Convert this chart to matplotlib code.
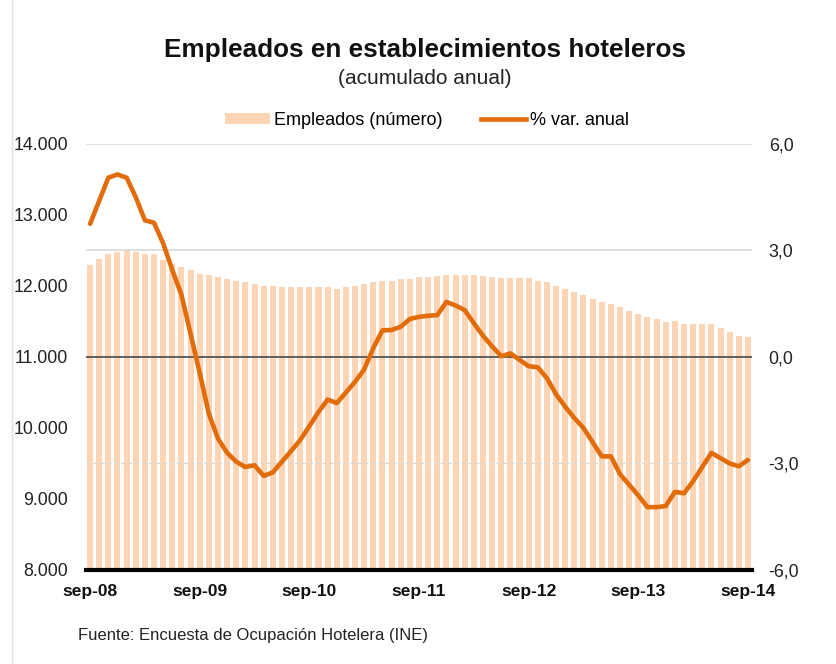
import matplotlib.pyplot as plt
from matplotlib.lines import Line2D
from matplotlib.patches import Patch

plt.rcParams['font.family'] = ['Liberation Sans', 'DejaVu Sans']

# Monthly data, sep-08 .. sep-14
empleados = [12290, 12380, 12450, 12480, 12500, 12480, 12450, 12450, 12370, 12310,
             12270, 12220, 12170, 12150, 12130, 12100, 12075, 12050, 12030, 12005,
             12000, 11990, 11990, 11990, 11990, 11990, 11990, 11960, 11990, 12005,
             12030, 12050, 12075, 12075, 12100, 12100, 12130, 12130, 12140, 12150,
             12150, 12150, 12150, 12140, 12130, 12110, 12110, 12110, 12110, 12075,
             12050, 12000, 11960, 11910, 11870, 11820, 11770, 11750, 11700, 11650,
             11600, 11560, 11530, 11490, 11510, 11470, 11460, 11460, 11460, 11410,
             11350, 11300, 11280]

var_anual = [3.75, 4.4, 5.05, 5.14, 5.05, 4.5, 3.85, 3.78, 3.2, 2.45,
             1.75, 0.65, -0.45, -1.6, -2.3, -2.7, -2.95, -3.1, -3.05, -3.35,
             -3.25, -2.95, -2.65, -2.34, -1.95, -1.55, -1.2, -1.3, -1.0, -0.7,
             -0.35, 0.25, 0.75, 0.76, 0.85, 1.07, 1.13, 1.16, 1.18, 1.55,
             1.45, 1.32, 0.95, 0.6, 0.3, 0.02, 0.1, -0.08, -0.26, -0.29,
             -0.6, -1.05, -1.4, -1.72, -2.0, -2.4, -2.8, -2.8, -3.3, -3.6,
             -3.9, -4.23, -4.23, -4.2, -3.8, -3.84, -3.5, -3.1, -2.7, -2.85,
             -3.0, -3.08, -2.9]

tick_labels = ['sep-08', 'sep-09', 'sep-10', 'sep-11', 'sep-12', 'sep-13', 'sep-14']
left_ticks = [8000, 9000, 10000, 11000, 12000, 13000, 14000]
right_ticks = [-6, -3, 0, 3, 6]

bar_color = '#FDD5B4'
line_color = '#E36C0A'

fig = plt.figure(figsize=(8.37, 6.64), dpi=100)
ax = fig.add_axes([0.1027, 0.1416, 0.7958, 0.6416])
ax2 = ax.twinx()

x = list(range(len(empleados)))
ax.bar(x, empleados, width=0.66, color=bar_color, zorder=2)
ax.set_ylim(8000, 14000)
ax.set_xlim(-0.45, len(x) - 0.55)
ax.set_yticks(left_ticks)
ax.set_yticklabels([f'{v:,}'.replace(',', '.') for v in left_ticks], fontsize=12.8, color='#222222')
ax.set_xticks(x[::12])
ax.set_xticklabels(tick_labels, fontsize=12.5, fontweight='bold', color='#111111')
ax.tick_params(axis='both', length=0)
ax.tick_params(axis='y', pad=13)
ax.tick_params(axis='x', pad=10)

# grid / reference lines (on the right scale)
ax2.axhline(6, color='#d9d9d9', lw=1.2, zorder=1)
ax2.axhline(3, color='#d9d9d9', lw=1.2, zorder=1)
ax2.axhline(-3, color='#d9d9d9', lw=1.0, ls=(0, (3, 2)), zorder=1)
ax2.axhline(0, color='#555555', lw=1.3, zorder=3)

ax2.plot(x, var_anual, color=line_color, lw=3.3, solid_capstyle='round',
         solid_joinstyle='round', zorder=4)
ax2.set_ylim(-6, 6)
ax2.set_yticks(right_ticks)
ax2.set_yticklabels([f'{v:.1f}'.replace('.', ',') for v in right_ticks], fontsize=12.8, color='#222222')
ax2.tick_params(axis='y', length=0, pad=12)

for a in (ax, ax2):
    for s in ('top', 'right', 'left', 'bottom'):
        a.spines[s].set_visible(False)
ax2.axhline(-6, color='#000000', lw=3, zorder=5, clip_on=False)
ax.set_zorder(0)
ax2.set_zorder(1)
ax2.patch.set_visible(False)

fig.text(0.508, 0.925, 'Empleados en establecimientos hoteleros', ha='center', va='center',
         fontsize=18.8, fontweight='bold', color='#111111')
fig.text(0.508, 0.882, '(acumulado anual)', ha='center', va='center', fontsize=15, color='#222222')

handles = [Patch(facecolor=bar_color, edgecolor='none'),
           Line2D([0], [0], color=line_color, lw=3.3)]
fig.legend(handles, ['Empleados (número)', '% var. anual'], loc='center', ncol=2,
           bbox_to_anchor=(0.510, 0.819), frameon=False, fontsize=13,
           handlelength=2.5, handleheight=0.6, columnspacing=2.1, handletextpad=0.25)

fig.text(0.093, 0.043, 'Fuente: Encuesta de Ocupación Hotelera (INE)', ha='left', va='center',
         fontsize=12, color='#222222')

# light border at the left edge
fig.add_artist(Line2D([0.0143, 0.0143], [0, 1], transform=fig.transFigure, color='#e0e0e0', lw=1))

fig.savefig('out.png', dpi=100)
